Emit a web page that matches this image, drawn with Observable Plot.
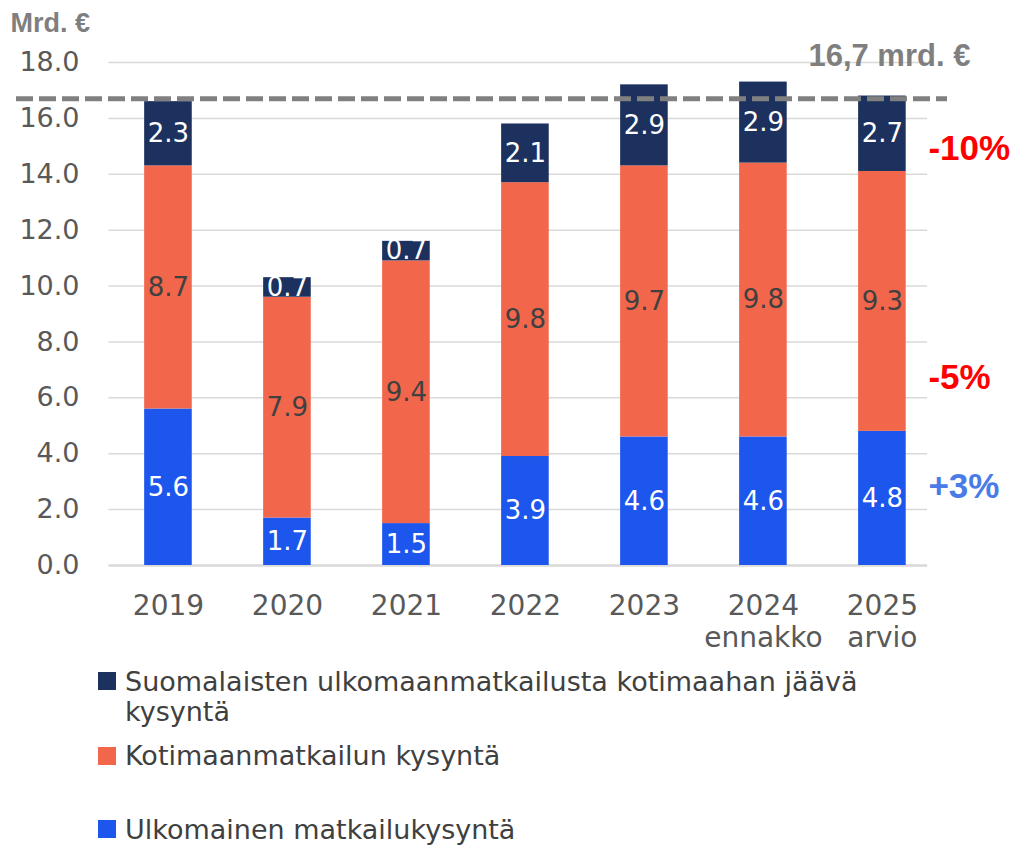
<!DOCTYPE html>
<html>
<head>
<meta charset="utf-8">
<script src="https://cdn.jsdelivr.net/npm/d3@7"></script>
<script src="https://cdn.jsdelivr.net/npm/@observablehq/plot@0.6"></script>
<style>
  html, body { margin: 0; padding: 0; background: #fff; }
  #chart { position: relative; width: 1014px; }
  #legend { position: relative; width: 1014px; height: 185px; font-family: "DejaVu Sans", sans-serif; font-size: 27px; color: #404040; }
  .sw { position: absolute; left: 98px; width: 18px; height: 18px; }
  .lt { position: absolute; left: 125px; width: 780px; line-height: 30px; }
</style>
</head>
<body>
<div id="chart"></div>
<div id="legend"></div>
<script>
// ---- data ----
const years = ["2019", "2020", "2021", "2022", "2023", "2024", "2025"];
const yearNotes = ["", "", "", "", "", "ennakko", "arvio"];
const foreignDemand = [5.6, 1.7, 1.5, 3.9, 4.6, 4.6, 4.8];
const domesticDemand = [8.7, 7.9, 9.4, 9.8, 9.7, 9.8, 9.3];
const retainedDemand = [2.3, 0.7, 0.7, 2.1, 2.9, 2.9, 2.7];
const seriesNames = [
  "Ulkomainen matkailukysyntä",
  "Kotimaanmatkailun kysyntä",
  "Suomalaisten ulkomaanmatkailusta kotimaahan jäävä kysyntä"
];
const seriesColors = ["#1c56ec", "#f2664b", "#1c315e"];
const labelColors = ["#ffffff", "#404040", "#ffffff"];
const yTicks = [0, 2, 4, 6, 8, 10, 12, 14, 16, 18];
const referenceValue = 16.7;
const referenceLabel = "16,7 mrd. €";
const unitLabel = "Mrd. €";
const changeLabels = ["+3%", "-5%", "-10%"];
const changeAt = [2.8, 6.7, 14.9];
const changeColors = ["#4a7ce8", "#ff0000", "#ff0000"];

// ---- build table (stacked bottom to top) ----
const seriesValues = [foreignDemand, domesticDemand, retainedDemand];
const rows = [];
years.forEach((yr, i) => {
  let base = 0;
  seriesValues.forEach((vals, s) => {
    const v = vals[i];
    rows.push({i, year: yr, s, series: seriesNames[s], value: v, y1: base, y2: base + v});
    base += v;
  });
});

const half = 0.2;
const gridX1 = -0.5, gridX2 = 6.38;
const font = "DejaVu Sans, sans-serif";

const chart = Plot.plot({
  width: 1014,
  height: 660,
  marginLeft: 16,
  marginRight: 67,
  marginTop: 62,
  marginBottom: 95,
  style: {fontFamily: font, background: "#fff", overflow: "visible"},
  x: {type: "linear", domain: [-1.277, 6.547], axis: null},
  y: {domain: [0, 18], axis: null},
  marks: [
    Plot.ruleY(yTicks.filter(d => d > 0), {x1: gridX1, x2: gridX2, stroke: "#d9d9d9", strokeWidth: 1.5}),
    Plot.ruleY([0], {x1: gridX1, x2: gridX2, stroke: "#d9d9d9", strokeWidth: 2.5}),
    Plot.rect(rows, {
      x1: d => d.i - half, x2: d => d.i + half,
      y1: "y1", y2: "y2",
      fill: d => seriesColors[d.s]
    }),
    Plot.ruleY([referenceValue], {stroke: "#808080", strokeWidth: 5, strokeDasharray: "17,6"}),
    Plot.text(rows, {
      x: "i", y: d => (d.y1 + d.y2) / 2,
      text: d => d3.format(".1f")(d.value),
      fill: d => labelColors[d.s],
      fontSize: 26, lineAnchor: "middle"
    }),
    Plot.axisY(yTicks, {
      anchor: "left", tickSize: 0, tickPadding: 0, dx: 63,
      tickFormat: d3.format(".1f"), fontSize: 27, fill: "#595959", label: null
    }),
    Plot.axisX(d3.range(years.length), {
      anchor: "bottom", tickSize: 0, tickPadding: 27,
      tickFormat: i => years[i] + (yearNotes[i] ? "\n" + yearNotes[i] : ""),
      fontSize: 28, fill: "#595959", lineHeight: 1.14, label: null
    }),
    Plot.text([referenceLabel], {
      x: () => years.length - 1, y: () => referenceValue,
      text: d => d, textAnchor: "end", lineAnchor: "bottom", dx: 88, dy: -33,
      fontSize: 31, fontWeight: "bold", fill: "#7f7f7f", fontFamily: "Liberation Sans, Arial, sans-serif"
    }),
    Plot.text([unitLabel], {
      frameAnchor: "top-left", text: d => d, textAnchor: "start", lineAnchor: "bottom",
      dx: -6, dy: -31, fontSize: 27, fontWeight: "bold", fill: "#7f7f7f",
      fontFamily: "Liberation Sans, Arial, sans-serif"
    }),
    Plot.text(changeLabels, {
      x: () => years.length - 1, y: (d, k) => changeAt[k],
      text: d => d, textAnchor: "start", lineAnchor: "middle", dx: 46,
      fill: (d, k) => changeColors[k], fontSize: 35, fontWeight: "bold",
      fontFamily: "Liberation Sans, Arial, sans-serif"
    })
  ]
});
document.getElementById("chart").appendChild(chart);

// ---- legend (top-to-bottom order as in the original) ----
const legend = document.getElementById("legend");
const legendOrder = [2, 1, 0];
const swatchTop = [12, 87, 160];
const textTop = [7, 81, 155];
legendOrder.forEach((s, k) => {
  const sw = document.createElement("div");
  sw.className = "sw";
  sw.style.top = swatchTop[k] + "px";
  sw.style.background = seriesColors[s];
  legend.appendChild(sw);
  const t = document.createElement("div");
  t.className = "lt";
  t.style.top = textTop[k] + "px";
  t.textContent = seriesNames[s];
  legend.appendChild(t);
});
</script>
</body>
</html>
